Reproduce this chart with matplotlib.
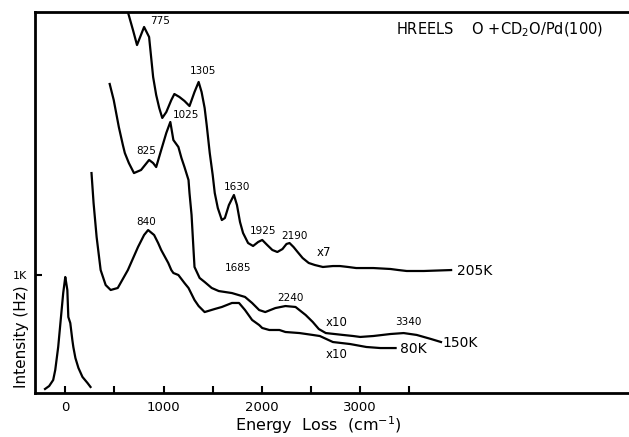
import matplotlib
matplotlib.use("Agg")
import matplotlib.pyplot as plt

# ---- data (energy loss in cm^-1, intensity in arbitrary units where 1000 = "1K") ----
elastic_E = [-206, -164, -123, -102, -72, -21, 0, 10, 21, 31, 51, 72, 82, 103, 134, 175, 226, 257]
elastic_I = [34, 59, 110, 195, 390, 847, 983, 932, 873, 644, 593, 449, 390, 297, 212, 136, 85, 51]

k205_E = [617, 689, 730, 802, 853, 894, 925, 956, 987, 1028, 1079, 1110, 1161, 1213, 1264,
          1315, 1357, 1387, 1418, 1439, 1470, 1500, 1521, 1552, 1593, 1624, 1665, 1716, 1747,
          1778, 1809, 1860, 1911, 1963, 2004, 2055, 2107, 2158, 2210, 2251, 2282, 2323, 2364,
          2415, 2477, 2538, 2621, 2723, 2795, 2878, 2960, 3135, 3309, 3391, 3474, 3648, 3926]
k205_I = [3288, 3076, 2949, 3102, 3017, 2678, 2526, 2416, 2331, 2381, 2483, 2534, 2509, 2475,
          2432, 2551, 2636, 2551, 2416, 2271, 2034, 1848, 1695, 1568, 1466, 1483, 1593, 1678,
          1593, 1449, 1356, 1271, 1246, 1280, 1297, 1254, 1212, 1195, 1220, 1263, 1271, 1237,
          1195, 1144, 1102, 1085, 1068, 1076, 1076, 1068, 1059, 1059, 1051, 1042, 1034, 1034, 1042]

k150_E = [452, 493, 545, 586, 606, 647, 699, 771, 853, 894, 925, 976, 1028, 1069, 1100, 1151,
          1182, 1213, 1254, 1264, 1285, 1305, 1315, 1367, 1418, 1490, 1562, 1696, 1829, 1901,
          1973, 2035, 2138, 2240, 2343, 2446, 2518, 2580, 2651, 2826, 2929, 3001, 3135, 3309,
          3443, 3576, 3720, 3823]
k150_I = [2619, 2483, 2254, 2102, 2034, 1949, 1864, 1890, 1975, 1949, 1915, 2059, 2204, 2297,
          2144, 2085, 1992, 1915, 1805, 1695, 1509, 1212, 1068, 975, 941, 890, 864, 847, 814,
          763, 703, 686, 720, 737, 729, 661, 602, 542, 508, 492, 483, 475, 483, 500, 508, 492,
          458, 432]

k80_E = [267, 288, 319, 360, 411, 462, 534, 637, 740, 802, 843, 904, 945, 976, 1048, 1079, 1100,
         1151, 1213, 1254, 1315, 1357, 1418, 1521, 1593, 1696, 1768, 1829, 1901, 1973, 2004,
         2076, 2179, 2240, 2384, 2518, 2590, 2723, 2898, 3063, 3206, 3361]
k80_I = [1864, 1610, 1322, 1042, 915, 873, 890, 1042, 1237, 1339, 1381, 1339, 1271, 1212, 1102,
         1042, 1017, 1000, 932, 890, 788, 737, 686, 712, 729, 763, 763, 703, 619, 576, 551, 534,
         534, 517, 508, 492, 483, 432, 415, 390, 381, 381]

xticks = [0, 1000, 2000, 3000]
xtick_labels = ["0", "1000", "2000", "3000"]
yticks = [1000]
ytick_labels = ["1K"]

peak_labels = [("775", 160, 21), ("1305", 203, 71), ("1025", 186, 115), ("825", 146, 151),
               ("840", 146, 222), ("1630", 237, 187), ("1925", 263, 231), ("2190", 294, 236),
               ("1685", 238, 268), ("2240", 290, 298), ("3340", 408, 322)]
mult_labels = [("x7", 324, 253), ("x10", 337, 322), ("x10", 337, 354)]
temp_labels = [("205K", 457, 271), ("150K", 442, 343), ("80K", 400, 349)]

W, H = 629, 437
fig = plt.figure(figsize=(W / 100, H / 100), dpi=100)
ax = fig.add_axes([35 / W, (H - 393) / H, (W - 35) / W + 0.01, (393 - 12) / H])

ax.set_xlim(-308, 5800)
ax.set_ylim(0, 3229)

lw = 1.6
for E, I in [(elastic_E, elastic_I), (k205_E, k205_I), (k150_E, k150_I), (k80_E, k80_I)]:
    ax.plot(E, I, color="black", lw=lw, solid_joinstyle="round")

ax.spines["right"].set_visible(False)
for s in ["left", "bottom", "top"]:
    ax.spines[s].set_linewidth(2.0)

ax.set_xticks(xticks)
ax.set_xticklabels(xtick_labels, fontsize=9.5)
ax.set_xticks([500, 1500, 2500, 3500], minor=True)
ax.set_yticks(yticks)
ax.set_yticklabels(ytick_labels, fontsize=8)
ax.tick_params(axis="x", which="both", direction="in", length=5, width=1.5, pad=6)
ax.tick_params(axis="y", direction="in", length=5, width=1.5, pad=6)

fig.text(318 / W, 1 - 425 / H, "Energy  Loss  (cm$^{-1}$)", ha="center", va="center", fontsize=11.5)
fig.text(22 / W, 1 - 337 / H, "Intensity (Hz)", ha="center", va="center", rotation=90, fontsize=11)
fig.text(500 / W, 1 - 30 / H, "HREELS    O +CD$_2$O/Pd(100)", ha="center", va="center", fontsize=10.5)

for s, x, y in peak_labels:
    fig.text(x / W, 1 - y / H, s, ha="center", va="center", fontsize=7.5)
for s, x, y in mult_labels:
    fig.text(x / W, 1 - y / H, s, ha="center", va="center", fontsize=8.5)
for s, x, y in temp_labels:
    fig.text(x / W, 1 - y / H, s, ha="left", va="center", fontsize=10)

fig.savefig("out.png", dpi=100)
